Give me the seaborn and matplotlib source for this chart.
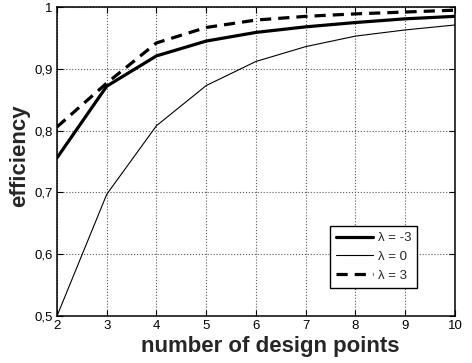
import matplotlib
matplotlib.use("Agg")
import matplotlib.pyplot as plt
import matplotlib.ticker as mticker
import seaborn as sns
import pandas as pd

design_points = [2, 3, 4, 5, 6, 7, 8, 9, 10]
eff_lam_m3 = [0.756, 0.872, 0.921, 0.945, 0.959, 0.968, 0.975, 0.981, 0.985]
eff_lam_0 = [0.500, 0.697, 0.808, 0.873, 0.912, 0.936, 0.953, 0.963, 0.971]
eff_lam_3 = [0.806, 0.877, 0.942, 0.967, 0.979, 0.985, 0.989, 0.992, 0.995]
labels = ["\u03bb = -3", "\u03bb = 0", "\u03bb = 3"]

sns.set_style("ticks")
plt.rcParams['font.family'] = ['Liberation Sans', 'DejaVu Sans']

fig = plt.figure(figsize=(4.72, 3.63), dpi=100)
ax = fig.add_axes([0.1208, 0.1295, 0.843, 0.851])

styles = [
    (eff_lam_m3, 2.3, "-"),
    (eff_lam_0, 0.8, "-"),
    (eff_lam_3, 2.3, (0, (3.5, 2.2))),
]
for (vals, lw, ls), lab in zip(styles, labels):
    df = pd.DataFrame({"n": design_points, "eff": vals})
    sns.lineplot(data=df, x="n", y="eff", ax=ax, color="black",
                 linewidth=lw, linestyle=ls, label=lab)

ax.set_xlim(2, 10)
ax.set_ylim(0.5, 1.0)
ax.set_xticks(range(2, 11))
ax.set_yticks([0.5, 0.6, 0.7, 0.8, 0.9, 1.0])
ax.yaxis.set_major_formatter(mticker.FuncFormatter(
    lambda v, p: "1" if abs(v - 1) < 1e-9 else f"{v:.1f}".replace(".", ",")))

ax.grid(True, color="0.35", linestyle=":", linewidth=0.8)
ax.tick_params(direction="in", top=True, right=True, labelsize=9.5,
               length=4, width=0.8, colors="black", pad=3)
for s in ax.spines.values():
    s.set_visible(True)
    s.set_color("black")
    s.set_linewidth(1.1)

ax.set_xlabel("number of design points", fontsize=16, fontweight="bold", labelpad=1)
ax.set_ylabel("efficiency", fontsize=16, fontweight="bold", labelpad=3)
# the original labels sit a little off-centre
ax.xaxis.set_label_coords(0.535, -0.065)
ax.yaxis.label.set_y(0.518)

leg = ax.legend(loc="lower right", bbox_to_anchor=(0.922, 0.07),
                fontsize=9.5, handlelength=2.8, fancybox=False, framealpha=1,
                edgecolor="black", borderpad=0.45, labelspacing=0.5,
                handletextpad=0.35)
leg.get_frame().set_linewidth(1.0)

fig.savefig("out.png", dpi=100)
